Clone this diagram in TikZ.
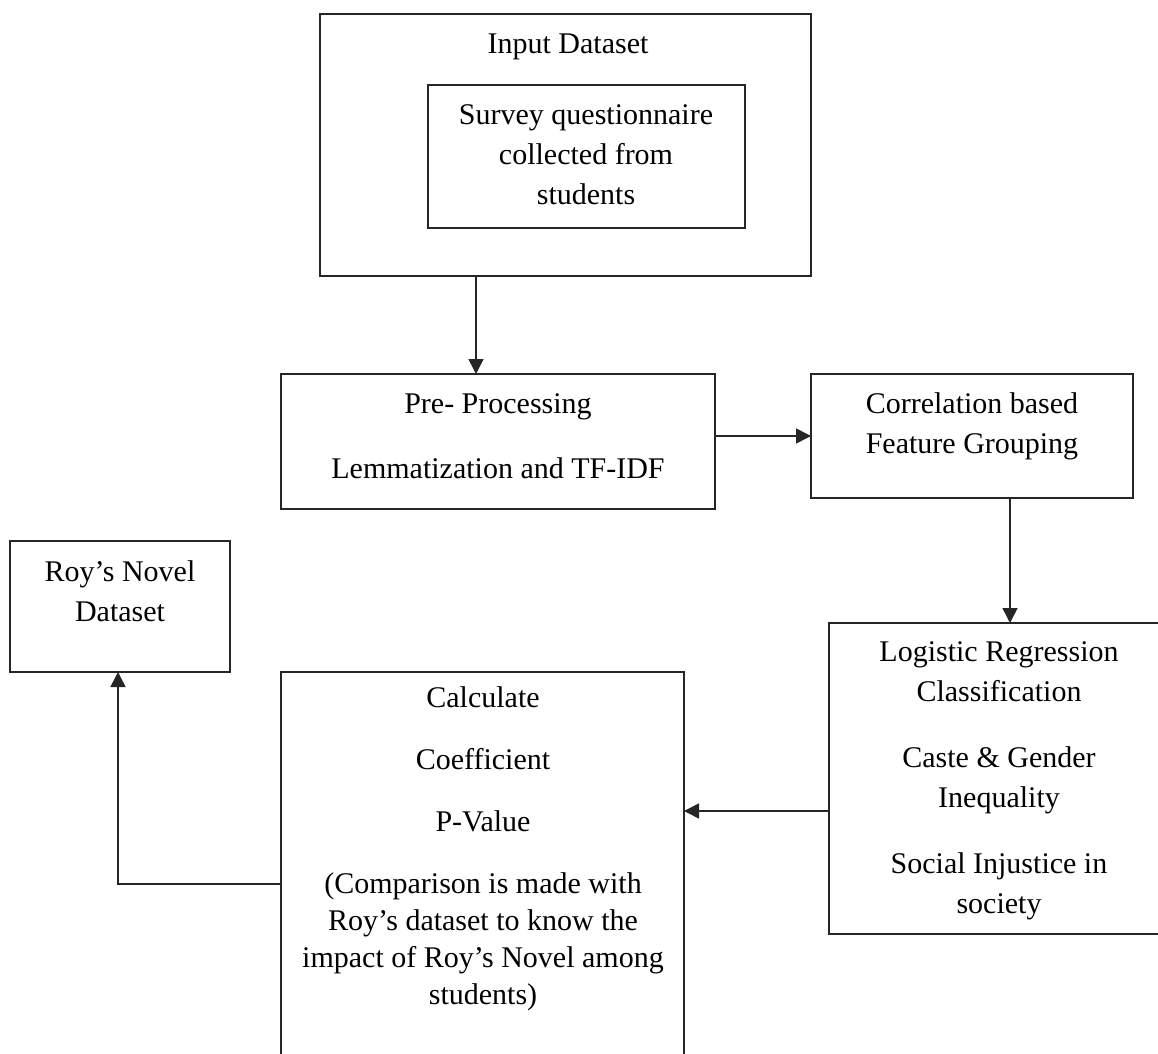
\documentclass[tikz,border=0pt]{standalone}
\usepackage{fontspec}
\setmainfont{Liberation Serif}
\usetikzlibrary{arrows.meta}
\begin{document}
\begin{tikzpicture}[x=0.5pt,y=-0.5pt,
  box/.style={draw=black!85, line width=0.8pt, rectangle, inner sep=0pt, outer sep=0pt},
  txt/.style={align=center, anchor=north, inner sep=0pt, font=\fontsize{15}{20}\selectfont, text=black},
  arr/.style={draw=black!85, line width=0.8pt, -{Triangle[length=7.5pt,width=7.5pt]}}]
\useasboundingbox (0,0) rectangle (1158,1054);
% boxes
\node[box, minimum width=245.5pt, minimum height=131pt] (input) at (565.5,145) {};
\node[box, minimum width=158.5pt, minimum height=71.5pt] (survey) at (586.5,156.5) {};
\node[box, minimum width=217pt, minimum height=67.5pt] (pre) at (498,441.5) {};
\node[box, minimum width=161pt, minimum height=62pt] (corr) at (972,436) {};
\node[box, minimum width=110pt, minimum height=65.5pt] (roy) at (120,606.5) {};
\node[box, minimum width=170pt, minimum height=155.5pt] (log) at (999,778.5) {};
\node[box, minimum width=201.5pt, minimum height=204pt] (calc) at (482.5,876) {};
% texts
\node[txt] (tinput) at (568,25) {\strut Input Dataset};
\node[txt] (tsurvey) at (586,96) {\strut Survey questionnaire\\collected from\\students};
\node[txt] (tpre) at (498,385) {\strut Pre- Processing\\[12.5pt]Lemmatization and TF-IDF};
\node[txt] (tcorr) at (972,385) {\strut Correlation based\\Feature Grouping};
\node[txt] (troy) at (120,553) {\strut Roy’s Novel\\Dataset};
\node[txt] (tlog) at (999,633) {\strut Logistic Regression\\Classification\\[13pt]Caste \& Gender\\Inequality\\[13pt]Social Injustice in\\society};
\node[txt] (tcalc) at (483,679) {\strut Calculate\\[11pt]Coefficient\\[11pt]P-Value\\[11pt](Comparison is made with\\[-1.5pt]Roy’s dataset to know the\\[-1.5pt]impact of Roy’s Novel among\\[-1.5pt]students)};
% connectors
\coordinate (c1) at (476,0);
\draw[arr] (input.south -| c1) -- (pre.north -| c1);
\draw[arr] (pre.east |- corr.west) -- (corr.west);
\coordinate (c2) at (1010,0);
\draw[arr] (corr.south -| c2) -- (log.north -| c2);
\coordinate (c3) at (0,811);
\draw[arr] (log.west |- c3) -- (calc.east |- c3);
\coordinate (c4) at (118,884);
\draw[arr] (calc.west |- c4) -| (roy.south -| c4);
\end{tikzpicture}
\end{document}
